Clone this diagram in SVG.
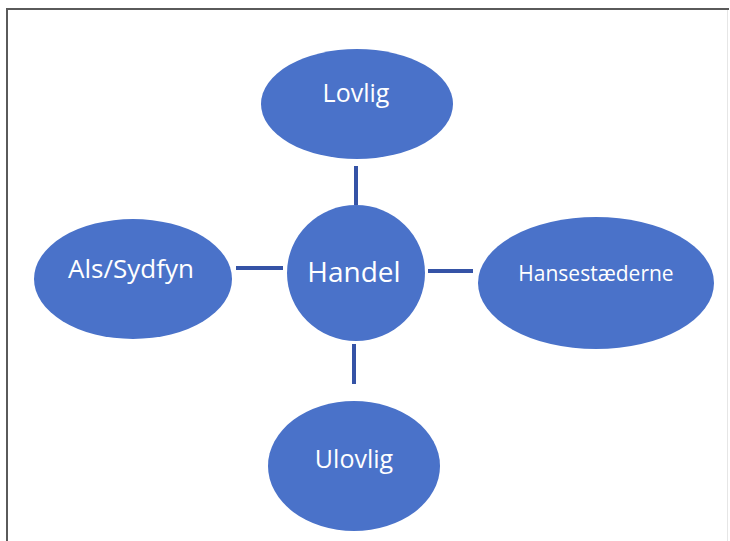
<svg xmlns="http://www.w3.org/2000/svg" width="730" height="541" viewBox="0 0 730 541">
<style>
.n{fill:#4a72c9;}
.t{fill:#ffffff;font-family:"Open Sans","Liberation Sans",sans-serif;text-anchor:middle;dominant-baseline:central;}
.c{stroke:#3553a6;stroke-width:4;fill:none;}
</style>
<rect x="0" y="0" width="730" height="541" fill="#ffffff"/>
<path d="M7 541 V9 H729" fill="none" stroke="#5a5a5a" stroke-width="2"/>
<line x1="727.5" y1="10" x2="727.5" y2="541" stroke="#e6e6e6" stroke-width="1"/>
<g id="connectors">
<line class="c" x1="356" y1="166" x2="356" y2="205"/>
<line class="c" x1="236" y1="268" x2="283" y2="268"/>
<line class="c" x1="428" y1="271" x2="473" y2="271"/>
<line class="c" x1="354" y1="344" x2="354" y2="384"/>
</g>
<g id="lovlig"><ellipse class="n" cx="357" cy="104" rx="96" ry="55"/><text class="t" x="356" y="92" font-size="25">Lovlig</text></g>
<g id="handel"><ellipse class="n" cx="356" cy="273" rx="69" ry="68"/><text class="t" x="354" y="271" font-size="28">Handel</text></g>
<g id="als"><ellipse class="n" cx="133" cy="279" rx="99" ry="60"/><text class="t" x="131" y="268" font-size="26">Als/Sydfyn</text></g>
<g id="hanse"><ellipse class="n" cx="596" cy="283" rx="118" ry="66"/><text class="t" x="596" y="273" font-size="21">Hansestæderne</text></g>
<g id="ulovlig"><ellipse class="n" cx="354" cy="466" rx="86" ry="65"/><text class="t" x="354" y="458" font-size="25">Ulovlig</text></g>
</svg>
